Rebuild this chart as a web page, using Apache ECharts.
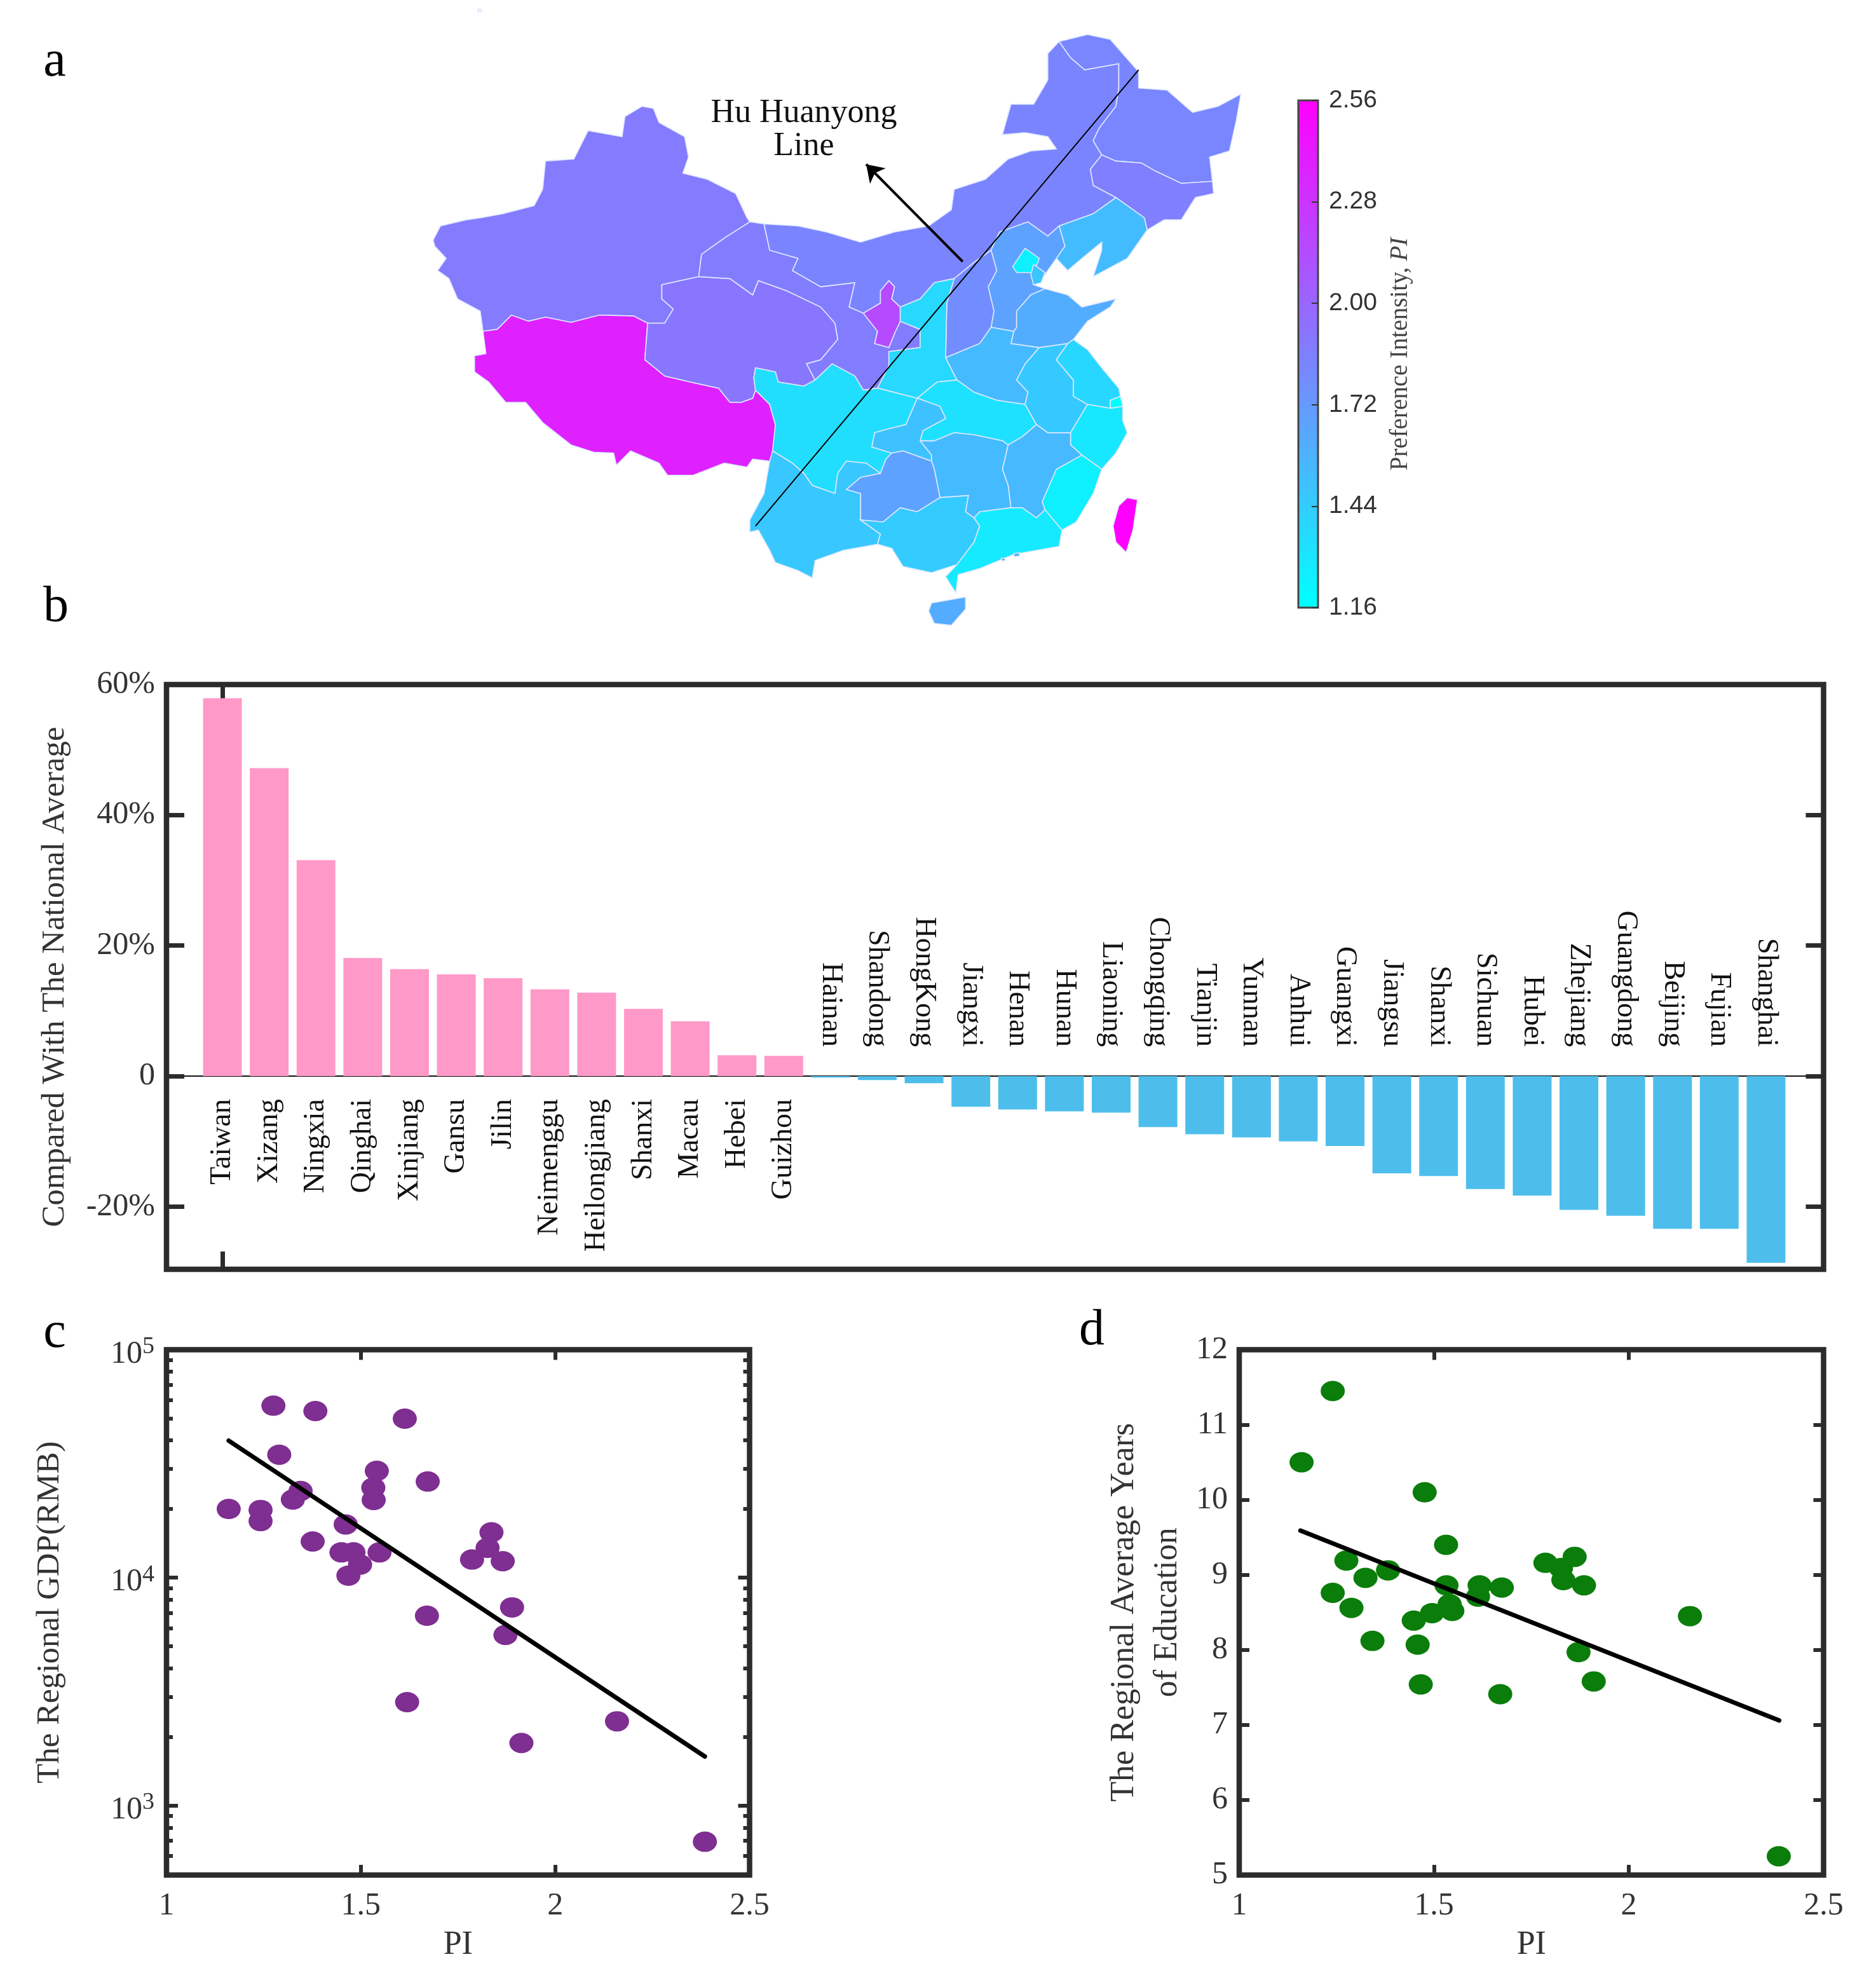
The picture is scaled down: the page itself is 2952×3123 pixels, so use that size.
<!DOCTYPE html>
<html><head><meta charset="utf-8">
<style>html,body{margin:0;padding:0;background:#fff}#c{width:2952px;height:3123px}</style>
<script src="https://cdn.jsdelivr.net/npm/echarts@6/dist/echarts.min.js"></script>
</head><body><div id="c"></div>
<script>
// ---------- panel b ----------
const barCategories = ['Taiwan','Xizang','Ningxia','Qinghai','Xinjiang','Gansu','Jilin','Neimenggu','Heilongjiang','Shanxi','Macau','Hebei','Guizhou','Hainan','Shandong','HongKong','Jiangxi','Henan','Hunan','Liaoning','Chongqing','Tianjin','Yunnan','Anhui','Guangxi','Jiangsu','Shanxi','Sichuan','Hubei','Zhejiang','Guangdong','Beijing','Fujian','Shanghai'];
const barValues = [57.9,47.2,33.1,18.1,16.4,15.6,15.0,13.3,12.8,10.3,8.4,3.2,3.1,-0.2,-0.6,-1.1,-4.7,-5.1,-5.4,-5.6,-7.8,-8.9,-9.4,-10.0,-10.7,-14.9,-15.3,-17.3,-18.3,-20.5,-21.4,-23.4,-23.4,-28.6];
const barTicks = [-20,0,20,40,60];
// ---------- panel a: PI per region ----------
const regionNames = ['Taiwan','Xizang','Ningxia','Qinghai','Xinjiang','Gansu','Jilin','Neimenggu','Heilongjiang','Shanxi','Macau','Hebei','Guizhou','Hainan','Shandong','HongKong','Jiangxi','Henan','Hunan','Liaoning','Chongqing','Tianjin','Yunnan','Anhui','Guangxi','Jiangsu','Shaanxi','Sichuan','Hubei','Zhejiang','Guangdong','Beijing','Fujian','Shanghai'];
const regionPI = [2.56,2.385,2.156,1.913,1.886,1.873,1.863,1.835,1.827,1.787,1.756,1.672,1.67,1.617,1.61,1.602,1.544,1.537,1.532,1.529,1.494,1.476,1.468,1.458,1.447,1.379,1.372,1.34,1.324,1.288,1.273,1.241,1.241,1.16];
const colorbarLabels = ['1.16','1.44','1.72','2.00','2.28','2.56'];
const mapShapes = {
 Xinjiang:[[47,545],[60,510],[105,495],[130,490],[170,480],[225,460],[240,420],[245,350],[295,345],[320,275],[380,290],[385,240],[415,215],[435,220],[445,255],[490,290],[497,340],[487,380],[530,395],[580,430],[600,490],[605,500],[560,540],[520,580],[515,635],[450,655],[450,690],[470,715],[455,750],[425,750],[400,732],[340,730],[290,748],[245,735],[215,745],[185,730],[160,765],[135,770],[130,720],[90,690],[75,640],[55,620],[70,590],[50,560]],
 Xizang:[[135,770],[160,765],[185,730],[215,745],[245,735],[290,748],[340,730],[400,732],[425,750],[420,840],[455,880],[500,895],[550,910],[570,945],[590,945],[610,935],[615,915],[640,950],[650,1000],[650,1050],[640,1090],[610,1085],[600,1105],[560,1095],[505,1125],[460,1125],[445,1095],[395,1065],[370,1100],[365,1070],[330,1068],[290,1050],[240,995],[210,945],[175,945],[145,895],[120,870],[120,830],[140,825]],
 Qinghai:[[450,655],[515,635],[570,640],[610,680],[620,645],[670,670],[730,710],[755,750],[760,790],[730,840],[705,850],[720,890],[700,905],[655,895],[650,870],[615,860],[612,885],[615,915],[610,935],[590,945],[570,945],[550,910],[500,895],[455,880],[420,840],[425,750],[455,750],[470,715],[450,690]],
 Gansu:[[520,580],[560,540],[605,500],[630,505],[640,570],[690,590],[680,620],[730,660],[790,650],[780,710],[805,725],[830,770],[825,800],[850,810],[860,775],[870,745],[905,765],[905,810],[850,820],[850,855],[830,910],[805,915],[790,880],[750,850],[720,890],[705,850],[730,840],[760,790],[755,750],[730,710],[670,670],[620,645],[610,680],[570,640],[515,635]],
 Ningxia:[[850,645],[860,660],[855,690],[870,710],[870,745],[860,775],[850,810],[825,800],[830,770],[805,725],[835,700],[835,670]],
 Neimenggu:[[630,505],[690,510],[740,525],[800,550],[860,525],[920,510],[960,470],[965,420],[1020,395],[1060,345],[1100,325],[1145,320],[1130,290],[1090,280],[1050,285],[1065,210],[1105,210],[1130,150],[1130,85],[1150,55],[1170,95],[1195,125],[1255,110],[1255,170],[1250,215],[1220,270],[1210,300],[1225,335],[1205,370],[1210,410],[1250,440],[1210,480],[1150,510],[1130,535],[1095,500],[1045,525],[1030,570],[1000,600],[965,640],[930,650],[905,690],[870,710],[855,690],[860,660],[850,645],[835,670],[835,700],[805,725],[780,710],[790,650],[730,660],[680,620],[690,590],[640,570]],
 Heilongjiang:[[1150,55],[1165,50],[1200,38],[1240,50],[1265,90],[1290,130],[1290,170],[1340,175],[1385,230],[1430,215],[1470,185],[1462,250],[1450,325],[1415,340],[1420,400],[1365,405],[1320,375],[1295,355],[1250,350],[1225,335],[1210,300],[1220,270],[1250,215],[1255,170],[1255,110],[1195,125],[1170,95]],
 Jilin:[[1225,335],[1250,350],[1295,355],[1320,375],[1365,405],[1420,400],[1422,430],[1390,440],[1365,495],[1335,495],[1305,520],[1300,490],[1280,470],[1250,440],[1210,410],[1205,370]],
 Liaoning:[[1250,440],[1280,470],[1300,490],[1305,520],[1270,590],[1230,620],[1210,635],[1225,570],[1225,550],[1190,590],[1165,620],[1145,590],[1160,560],[1150,510],[1210,480]],
 Hebei:[[1045,525],[1095,500],[1130,535],[1150,510],[1160,560],[1145,590],[1120,640],[1118,650],[1105,655],[1125,665],[1100,680],[1075,720],[1075,760],[1070,770],[1030,760],[1035,720],[1025,660],[1040,620],[1030,570]],
 Beijing:[[1090,565],[1115,590],[1105,625],[1075,625],[1068,610]],
 Tianjin:[[1105,605],[1125,625],[1118,650],[1105,655],[1100,630]],
 Shandong:[[1100,680],[1125,665],[1165,680],[1190,710],[1250,690],[1240,710],[1200,745],[1175,790],[1165,800],[1115,810],[1065,800],[1070,770],[1075,760],[1075,720]],
 Shanxi:[[1030,570],[1040,620],[1025,660],[1035,720],[1030,760],[1010,800],[950,835],[952,700],[965,640],[1000,600]],
 Shaanxi:[[965,640],[952,700],[950,835],[970,890],[935,895],[900,935],[830,910],[850,855],[850,820],[905,810],[905,765],[870,745],[870,710],[905,690],[930,650]],
 Henan:[[950,835],[1010,800],[1030,760],[1070,770],[1065,800],[1115,810],[1090,850],[1075,890],[1095,920],[1090,950],[1040,940],[1000,920],[970,890]],
 Hubei:[[935,895],[970,890],[1000,920],[1040,940],[1090,950],[1110,1000],[1085,1030],[1060,1050],[1050,1040],[1000,1025],[965,1020],[930,1040],[905,1040],[910,1015],[950,985],[940,955],[900,935]],
 Anhui:[[1115,810],[1165,800],[1145,840],[1175,890],[1175,930],[1200,950],[1170,1020],[1130,1020],[1110,1000],[1090,950],[1095,920],[1075,890],[1090,850]],
 Jiangsu:[[1165,800],[1175,790],[1200,815],[1225,860],[1255,910],[1258,930],[1240,940],[1240,960],[1200,950],[1175,930],[1175,890],[1145,840]],
 Shanghai:[[1240,940],[1258,930],[1262,955],[1240,960]],
 Zhejiang:[[1200,950],[1240,960],[1262,955],[1262,990],[1270,1020],[1250,1070],[1225,1110],[1190,1075],[1170,1050],[1170,1020]],
 Fujian:[[1190,1075],[1225,1110],[1210,1170],[1180,1240],[1155,1260],[1125,1210],[1120,1190],[1145,1110]],
 Jiangxi:[[1130,1020],[1170,1020],[1170,1050],[1190,1075],[1145,1110],[1120,1190],[1125,1210],[1110,1230],[1085,1205],[1065,1205],[1060,1150],[1050,1110],[1060,1050],[1085,1030],[1110,1000]],
 Hunan:[[930,1040],[965,1020],[1000,1025],[1050,1040],[1060,1050],[1050,1110],[1060,1150],[1065,1205],[1010,1215],[1000,1230],[985,1215],[990,1175],[940,1180],[930,1110],[925,1090],[925,1075],[905,1040]],
 Sichuan:[[612,885],[615,860],[650,870],[655,895],[700,905],[720,890],[750,850],[790,880],[805,915],[830,910],[900,935],[880,1000],[850,1010],[825,1020],[820,1055],[855,1070],[845,1085],[835,1120],[810,1095],[775,1090],[760,1120],[755,1170],[715,1150],[700,1120],[680,1095],[645,1065],[650,1000],[640,950],[615,915]],
 Chongqing:[[900,935],[940,955],[950,985],[910,1015],[905,1040],[925,1075],[925,1090],[875,1065],[855,1070],[820,1055],[825,1020],[850,1010],[880,1000]],
 Guizhou:[[845,1085],[855,1070],[875,1065],[925,1090],[930,1110],[940,1180],[900,1215],[870,1205],[840,1240],[800,1235],[800,1170],[775,1160],[800,1130],[835,1120]],
 Yunnan:[[645,1065],[680,1095],[700,1120],[715,1150],[755,1170],[760,1120],[775,1090],[810,1095],[835,1120],[800,1130],[775,1160],[800,1170],[800,1235],[835,1270],[830,1295],[770,1310],[720,1335],[715,1378],[690,1360],[650,1340],[640,1310],[620,1260],[605,1265],[605,1235],[630,1170],[640,1090]],
 Guangxi:[[840,1240],[870,1205],[900,1215],[940,1180],[990,1175],[985,1215],[1000,1230],[1010,1250],[1000,1290],[970,1345],[925,1365],[875,1350],[855,1305],[830,1295],[835,1270],[800,1235]],
 Guangdong:[[1010,1215],[1065,1205],[1085,1205],[1110,1230],[1125,1210],[1155,1260],[1150,1300],[1070,1320],[1010,1355],[972,1370],[968,1415],[950,1375],[970,1345],[1000,1290],[1010,1250],[1000,1230]],
 Hainan:[[925,1440],[985,1425],[985,1455],[960,1495],[930,1490],[920,1460]],
 Taiwan:[[1270,1180],[1288,1185],[1280,1260],[1268,1315],[1250,1290],[1245,1250],[1255,1200]],
 HongKong:[[1070,1318],[1080,1316],[1080,1324],[1071,1326]],
 Macau:[[1048,1330],[1054,1329],[1055,1335],[1049,1336]]
};
const huLine = [[1290,125],[615,1250]];
const huArrow = [[980,598],[810,358]];
// ---------- panels c, d ----------
const gdpPI = [1.16,1.242,1.242,1.275,1.383,1.613,1.29,1.541,1.672,1.532,1.345,1.325,1.533,1.461,1.376,1.45,1.481,1.548,1.498,1.468,1.836,1.826,1.786,1.865,1.889,1.67,1.872,1.619,2.159,1.913,2.385];
const gdpValues = [20000,19800,17700,56800,53800,49800,34600,29400,26400,24800,24000,22000,21900,17100,14400,12900,12900,12900,11400,10200,15800,13500,12000,11800,7400,6800,5600,2840,2340,1880,693];
const gdpFit = [[1.16,39900],[2.385,1640]];
const eduPI = [1.16,1.24,1.476,1.531,1.275,1.324,1.382,1.24,1.288,1.342,1.448,1.495,1.532,1.54,1.547,1.617,1.613,1.674,1.458,1.466,1.67,1.786,1.826,1.861,1.832,1.885,1.871,1.91,2.157,2.385];
const eduValues = [10.50,11.45,10.10,9.40,9.19,8.96,9.06,8.76,8.56,8.12,8.39,8.49,8.86,8.61,8.52,8.86,8.71,8.83,8.07,7.54,7.41,9.16,9.09,9.24,8.93,8.86,7.97,7.58,8.45,5.25];
const eduFit = [[1.157,9.59],[2.386,7.06]];
const logMajor = [1000,10000,100000];
const logMinor = [600,700,800,900,2000,3000,4000,5000,6000,7000,8000,9000,20000,30000,40000,50000,60000,70000,80000,90000];

// ---------- drawing ----------
const SERIF = '"Liberation Serif","Times New Roman",serif';
const INK = '#333333';
const FRAME = '#2c2c2c';
const chart = echarts.init(document.getElementById('c'), null, {width:2952,height:3123,devicePixelRatio:1,renderer:'canvas'});
echarts.registerMap('china', {type:'FeatureCollection',features:Object.keys(mapShapes).map(n=>{
  const r=mapShapes[n].map(p=>[p[0],-p[1]]); r.push(r[0]);
  return {type:'Feature',properties:{name:n},geometry:{type:'Polygon',coordinates:[r]}};
})});
const toGeo = pts => pts.map(p=>[p[0],-p[1]]);

const numLabel = {fontFamily:SERIF,fontSize:50,color:INK};
function hiddenX(grid,min,max){return {gridIndex:grid,type:'value',min,max,show:false};}
function frameX(grid,pos,labels){return {gridIndex:grid,type:'value',position:pos,min:1,max:2.5,interval:0.5,splitLine:{show:false},
  axisLine:{show:false,onZero:false},axisTick:{show:true,inside:true,length:16,lineStyle:{color:FRAME,width:6}},
  axisLabel:{show:labels,margin:24,...numLabel,formatter:v=>String(v)},
  name:labels?'PI':'',nameLocation:'middle',nameGap:84,nameTextStyle:{fontFamily:SERIF,fontSize:52,color:INK}};}
const barX = [-1.196,34.23];
const barY = [-29.6,60];

const option = {
 backgroundColor:'#fff',animation:false,
 grid:[
  {left:2043,top:158,width:31,height:798,show:true,borderColor:'#444',borderWidth:3,backgroundColor:'transparent',z:5},
  {left:262,top:1077,width:2607.5,height:920,show:true,borderColor:FRAME,borderWidth:8.5},
  {left:262,top:2123.5,width:917.5,height:826.5,show:true,borderColor:FRAME,borderWidth:8.5},
  {left:1950,top:2123.5,width:919.5,height:826.5,show:true,borderColor:FRAME,borderWidth:8.5}
 ],
 xAxis:[
  hiddenX(0,0,1),
  {gridIndex:1,type:'value',position:'bottom',min:barX[0],max:barX[1],splitLine:{show:false},axisLine:{show:false,onZero:false},
   axisTick:{show:true,inside:true,length:28,customValues:[0],lineStyle:{color:FRAME,width:7}},axisLabel:{show:false}},
  {gridIndex:1,type:'value',position:'top',min:barX[0],max:barX[1],splitLine:{show:false},axisLine:{show:false,onZero:false},
   axisTick:{show:true,inside:true,length:28,customValues:[0],lineStyle:{color:FRAME,width:7}},axisLabel:{show:false}},
  {gridIndex:1,type:'value',min:barX[0],max:barX[1],splitLine:{show:false},axisLine:{show:true,onZero:true,lineStyle:{color:'#111',width:2}},axisTick:{show:false},axisLabel:{show:false}},
  frameX(2,'bottom',true),frameX(2,'top',false),
  frameX(3,'bottom',true),frameX(3,'top',false)
 ],
 yAxis:[
  {gridIndex:0,type:'category',position:'right',data:colorbarLabels,boundaryGap:false,z:10,splitLine:{show:false},
   axisLine:{show:false,onZero:false},axisTick:{show:true,inside:true,length:10,lineStyle:{color:'#333',width:2}},
   axisLabel:{margin:17,fontFamily:'"Liberation Sans",Arial,sans-serif',fontSize:39,color:'#333',interval:0},
   name:'Preference Intensity, {i|PI}',nameLocation:'middle',nameRotate:90,nameGap:110,
   nameTextStyle:{fontFamily:SERIF,fontSize:39,color:'#444',rich:{i:{fontFamily:SERIF,fontSize:39,fontStyle:'italic',color:'#444'}}}},
  {gridIndex:1,type:'value',position:'left',min:barY[0],max:barY[1],splitLine:{show:false},axisLine:{show:false,onZero:false},
   axisTick:{show:true,inside:true,length:28,customValues:barTicks,lineStyle:{color:FRAME,width:7}},
   axisLabel:{customValues:barTicks,margin:18,fontFamily:SERIF,fontSize:50,color:INK,padding:[6,0,0,0],formatter:v=>v===0?'0':v+'%'},
   name:'Compared With The National Average',nameLocation:'middle',nameGap:150,nameTextStyle:{fontFamily:SERIF,fontSize:51,color:INK}},
  {gridIndex:1,type:'value',position:'right',min:barY[0],max:barY[1],splitLine:{show:false},axisLine:{show:false,onZero:false},
   axisTick:{show:true,inside:true,length:28,customValues:barTicks,lineStyle:{color:FRAME,width:7}},axisLabel:{show:false}},
  {gridIndex:2,type:'log',logBase:10,position:'left',min:495,max:100000,splitLine:{show:false},axisLine:{show:false,onZero:false},
   axisTick:{show:true,inside:true,length:18,customValues:logMajor,lineStyle:{color:FRAME,width:6}},
   axisLabel:{customValues:logMajor,margin:19,padding:[14,0,0,0],formatter:v=>'{b|10}{s|'+Math.round(Math.log10(v))+'}',rich:{b:{fontFamily:SERIF,fontSize:50,color:INK},s:{fontFamily:SERIF,fontSize:38,color:INK,verticalAlign:'top',padding:[0,0,22,0]}}},
   name:'The Regional GDP(RMB)',nameLocation:'middle',nameGap:158,nameTextStyle:{fontFamily:SERIF,fontSize:51,color:INK}},
  {gridIndex:2,type:'log',logBase:10,position:'right',min:495,max:100000,splitLine:{show:false},axisLine:{show:false,onZero:false},
   axisTick:{show:true,inside:true,length:18,customValues:logMajor,lineStyle:{color:FRAME,width:6}},axisLabel:{show:false}},
  {gridIndex:2,type:'log',logBase:10,position:'left',min:495,max:100000,splitLine:{show:false},axisLine:{show:false,onZero:false},
   axisTick:{show:true,inside:true,length:10,customValues:logMinor,lineStyle:{color:FRAME,width:6}},axisLabel:{show:false}},
  {gridIndex:2,type:'log',logBase:10,position:'right',min:495,max:100000,splitLine:{show:false},axisLine:{show:false,onZero:false},
   axisTick:{show:true,inside:true,length:10,customValues:logMinor,lineStyle:{color:FRAME,width:6}},axisLabel:{show:false}},
  {gridIndex:3,type:'value',position:'left',min:5,max:12,interval:1,splitLine:{show:false},axisLine:{show:false,onZero:false},
   axisTick:{show:true,inside:true,length:16,lineStyle:{color:FRAME,width:6}},
   axisLabel:{margin:18,...numLabel},
   name:'The Regional Average Years\nof Education',nameLocation:'middle',nameGap:79,nameTextStyle:{fontFamily:SERIF,fontSize:52,color:INK,lineHeight:68}},
  {gridIndex:3,type:'value',position:'right',min:5,max:12,interval:1,splitLine:{show:false},axisLine:{show:false,onZero:false},
   axisTick:{show:true,inside:true,length:16,lineStyle:{color:FRAME,width:6}},axisLabel:{show:false}}
 ],
 geo:{map:'china',silent:true,roam:false,aspectScale:1.4,layoutCenter:[1317,499],layoutSize:1271,
   label:{show:false},itemStyle:{areaColor:'#8080ff',borderColor:'#dfe8ff',borderWidth:1.6},emphasis:{disabled:true},select:{disabled:true}},
 visualMap:{type:'continuous',seriesIndex:0,min:1.16,max:2.56,left:2044,top:159,itemWidth:29,itemHeight:796,padding:0,calculable:false,text:['',''],
   inRange:{color:['#00ffff','#ff00ff']},z:4,hoverLink:false,silent:true},
 graphic:{elements:[
   {type:'text',x:86,y:98,style:{text:'a',fontFamily:SERIF,fontSize:80,fill:'#000',textAlign:'center',textVerticalAlign:'middle'}},
   {type:'text',x:88,y:956,style:{text:'b',fontFamily:SERIF,fontSize:80,fill:'#000',textAlign:'center',textVerticalAlign:'middle'}},
   {type:'text',x:86,y:2098,style:{text:'c',fontFamily:SERIF,fontSize:80,fill:'#000',textAlign:'center',textVerticalAlign:'middle'}},
   {type:'text',x:1718,y:2094,style:{text:'d',fontFamily:SERIF,fontSize:80,fill:'#000',textAlign:'center',textVerticalAlign:'middle'}},
   {type:'text',x:1265,y:204,style:{text:'Hu Huanyong\nLine',fontFamily:SERIF,fontSize:52,lineHeight:52,fill:'#111',textAlign:'center',textVerticalAlign:'middle'}}
 ]},
 series:[
  {type:'map',geoIndex:0,data:regionNames.map((n,i)=>({name:n,value:regionPI[i]}))},
  {type:'lines',coordinateSystem:'geo',polyline:false,silent:true,z:5,symbol:['none','none'],lineStyle:{color:'#000',width:2,opacity:1,curveness:0},
   data:[{coords:toGeo(huLine)}]},
  {type:'lines',coordinateSystem:'geo',polyline:false,silent:true,z:5,symbol:['none','arrow'],symbolSize:26,lineStyle:{color:'#000',width:4,opacity:1,curveness:0},
   data:[{coords:toGeo(huArrow)}]},
  {type:'bar',xAxisIndex:1,yAxisIndex:1,barWidth:61,z:3,silent:true,
   data:barCategories.map((n,i)=>{const v=barValues[i],pos=v>=0;return {name:n,value:[i,v],
     itemStyle:{color:pos?'#ff99c8':'#4dbeec'},
     label:{show:true,formatter:'{b}',position:pos?'bottom':'top',rotate:pos?90:-90,align:'right',verticalAlign:'middle',
       distance:pos?36:46,fontFamily:SERIF,fontSize:46,color:'#111'}};})},
  {type:'scatter',xAxisIndex:4,yAxisIndex:3,z:3,silent:true,symbol:'circle',symbolSize:[38,32],itemStyle:{color:'#7f2e91',opacity:1},
   data:gdpPI.map((x,i)=>[x,gdpValues[i]])},
  {type:'line',xAxisIndex:4,yAxisIndex:3,z:4,silent:true,showSymbol:false,symbol:'none',lineStyle:{color:'#000',width:7,cap:'round'},data:gdpFit},
  {type:'scatter',xAxisIndex:6,yAxisIndex:7,z:3,silent:true,symbol:'circle',symbolSize:[38,32],itemStyle:{color:'#0a7d0a',opacity:1},
   data:eduPI.map((x,i)=>[x,eduValues[i]])},
  {type:'line',xAxisIndex:6,yAxisIndex:7,z:4,silent:true,showSymbol:false,symbol:'none',lineStyle:{color:'#000',width:7,cap:'round'},data:eduFit}
 ]
};
chart.setOption(option);
</script></body></html>
